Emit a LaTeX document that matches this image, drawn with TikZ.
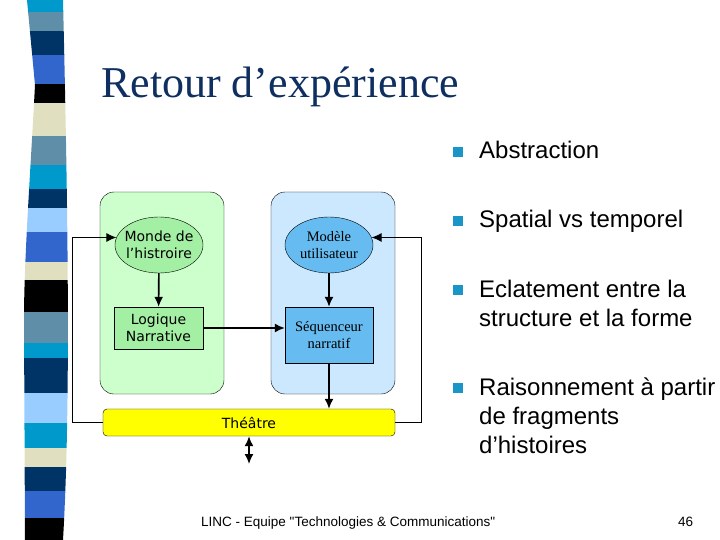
\documentclass[tikz,border=0pt]{standalone}
\usepackage{fontspec}
\setmainfont{Liberation Serif}
\setsansfont{Liberation Sans}
\newfontfamily\verdana{DejaVu Sans}
\usetikzlibrary{shapes.geometric,arrows.meta}
\definecolor{titlenavy}{HTML}{0E2F5F}
\definecolor{rayCyan}{HTML}{0099CC}
\definecolor{rayGris}{HTML}{5F8FA8}
\definecolor{rayMarine}{HTML}{003366}
\definecolor{rayRoi}{HTML}{3366CC}
\definecolor{rayBeige}{HTML}{E0E0C0}
\definecolor{rayCiel}{HTML}{99CCFF}
\definecolor{vertclair}{HTML}{CCFFCC}
\definecolor{vertmoyen}{HTML}{A3EFA3}
\definecolor{bleuclair}{HTML}{CCE8FF}
\definecolor{bleumoyen}{HTML}{66BBF0}
\definecolor{jaune}{HTML}{FFFF00}
\definecolor{pucebleu}{HTML}{1A95C8}
\tikzstyle{every node}=[inner sep=0pt]
\tikzstyle{zone}=[draw=black,rounded corners=14pt,minimum width=124pt,minimum height=202pt]
\tikzstyle{bulle}=[ellipse,draw=black,inner xsep=-10pt,inner ysep=-5pt,minimum width=88pt,minimum height=56pt,align=center]
\tikzstyle{cadre}=[rectangle,draw=black,align=center]
\tikzstyle{verd}=[font=\verdana\fontsize{14}{17}\selectfont]
\tikzstyle{serif}=[font=\fontsize{14.5}{17}\selectfont]
\tikzstyle{fleche}=[line width=1.6pt,-{Latex[length=10pt,width=9pt]}]
\tikzstyle{retour}=[line width=0.9pt,-{Latex[length=10pt,width=9pt]}]
\tikzstyle{point}=[fill=pucebleu,minimum size=10pt]
\tikzstyle{puce}=[anchor=base west,align=left,font=\sffamily\fontsize{24}{29}\selectfont]

\begin{document}
\begin{tikzpicture}[x=1pt,y=-1pt]
  \useasboundingbox (0,0) rectangle (720,540);
  \begin{scope}
    \clip (27,0) -- (35,85) .. controls (30,180) and (24,260) .. (24,320) -- (25,540)
      -- (63,540) .. controls (70,420) and (69,250) .. (63,0) -- cycle;
    \foreach \haut/\bas/\teinte in {0/12/rayCyan,12/31/rayGris,31/55/rayMarine,55/84/rayRoi,
      84/103/black,103/136/rayBeige,136/165/rayGris,165/189/rayCyan,189/208/rayMarine,
      208/232/rayCiel,232/262/rayRoi,262/280/rayBeige,280/312/black,312/343/rayGris,
      343/358/rayCyan,358/393/rayMarine,393/423/rayCiel,423/448/rayCyan,448/467/rayBeige,
      467/491/rayMarine,491/518/rayRoi,518/540/black}
      \fill[\teinte] (20,\haut) rectangle (75,\bas);
  \end{scope}
  \node[anchor=base west,text=titlenavy,font=\fontsize{44}{50}\selectfont] (titre) at (101,98) {Retour d’expérience};

  \node[zone,fill=vertclair] (zonemonde) at (162,293) {};
  \node[zone,fill=bleuclair] (zonemodele) at (333,293) {};
  \node[bulle,verd,fill=vertmoyen] (monde) at (159,245) {Monde de\\l’histroire};
  \node[bulle,serif,fill=bleumoyen] (modele) at (329,245) {Modèle\\utilisateur};
  \node[cadre,verd,fill=vertmoyen,minimum width=89pt,minimum height=42pt] (logique) at (158.5,328) {Logique\\Narrative};
  \node[cadre,serif,fill=bleumoyen,minimum width=88pt,minimum height=56pt] (sequenceur) at (329,335) {Séquenceur\\narratif};
  \node[cadre,verd,fill=jaune,rounded corners=4pt,minimum width=292pt,minimum height=27pt] (theatre) at (249,422.5) {Théâtre};
  \coordinate (scene) at (249,464);

  \draw[fleche] (monde) -- (logique);
  \draw[fleche] (modele) -- (sequenceur);
  \draw[fleche] (logique.east) -- (logique.east -| sequenceur.west);
  \draw[fleche] (sequenceur.south) -- (sequenceur.south |- theatre.north);
  \draw[fleche,{Latex[length=10pt,width=9pt]}-{Latex[length=10pt,width=9pt]}] (theatre.south) -- (scene);
  \draw[retour] (theatre.west) -- ++(-30,0) |- (monde.170);
  \draw[retour] (theatre.east) -- ++(26,0) |- (modele.10);

  \node[point] (p1) at (457.5,152) {};
  \node[puce] (b1) at (479,159) {Abstraction};
  \node[point] (p2) at (457.5,221) {};
  \node[puce] (b2) at (479,228) {Spatial vs temporel};
  \node[point] (p3) at (457.5,290) {};
  \node[puce] (b3) at (479,326) {Eclatement entre la\\structure et la forme};
  \node[point] (p4) at (457.5,388) {};
  \node[puce] (b4) at (479,453) {Raisonnement à partir\\de fragments\\d’histoires};

  \node[anchor=base west,font=\sffamily\fontsize{13.5}{16}\selectfont] (pied) at (201,526) {LINC - Equipe \textquotedbl Technologies \& Communications\textquotedbl};
  \node[anchor=base west,font=\sffamily\fontsize{13.5}{16}\selectfont] (page) at (678,526) {46};
\end{tikzpicture}
\end{document}
